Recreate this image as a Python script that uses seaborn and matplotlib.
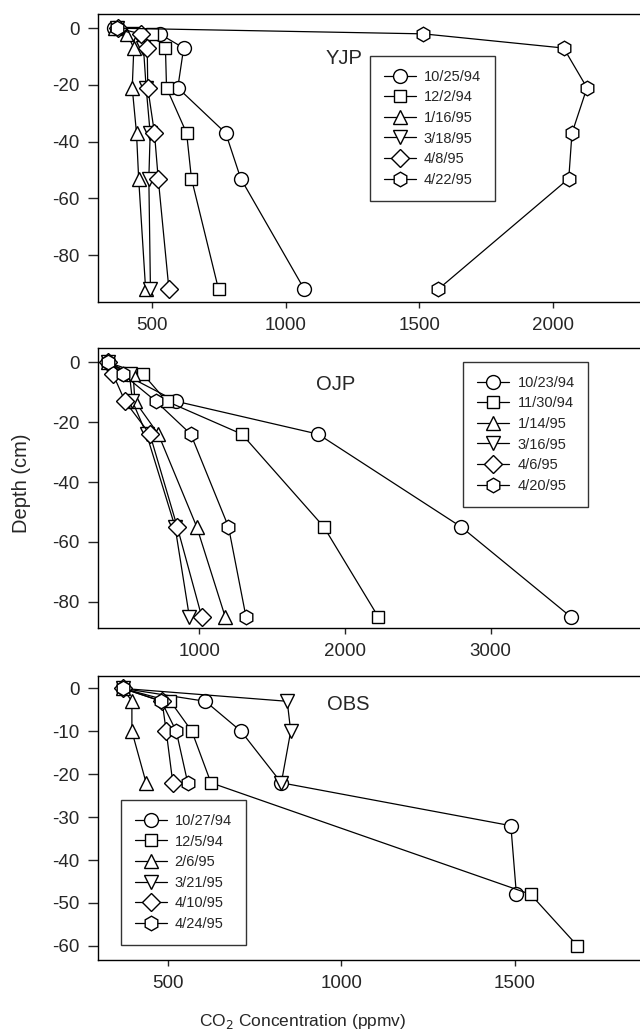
import matplotlib
matplotlib.use("Agg")
import matplotlib.pyplot as plt
import pandas as pd
import seaborn as sns

# YJP site
yjp_depth = [0, -2, -7, -21, -37, -53, -92]
yjp_dates = ["10/25/94", "12/2/94", "1/16/95", "3/18/95", "4/8/95", "4/22/95"]
yjp_co2 = [
    [360, 530, 620, 598, 777, 833, 1070],
    [370, 500, 552, 556, 631, 649, 750],
    [365, 409, 434, 428, 444, 452, 478],
    [370, 430, 470, 480, 495, 490, 496],
    [375, 459, 484, 486, 511, 525, 565],
    [370, 1514, 2038, 2125, 2069, 2057, 1570],
]

# OJP site
ojp_depth = [0, -4, -13, -24, -55, -85]
ojp_dates = ["10/23/94", "11/30/94", "1/14/95", "3/16/95", "4/6/95", "4/20/95"]
ojp_co2 = [
    [372, 485, 839, 1816, 2798, 3550],
    [372, 614, 775, 1292, 1855, 2228],
    [372, 545, 557, 718, 982, 1177],
    [372, 520, 540, 637, 833, 931],
    [372, 407, 489, 660, 848, 1016],
    [372, 476, 701, 941, 1200, 1320],
]

# OBS site
obs_dates = ["10/27/94", "12/5/94", "2/6/95", "3/21/95", "4/10/95", "4/24/95"]
obs_depth = [
    [0, -3, -10, -22, -32, -48],
    [0, -3, -10, -22, -48, -60],
    [0, -3, -10, -22],
    [0, -3, -10, -22],
    [0, -3, -10, -22],
    [0, -3, -10, -22],
]
obs_co2 = [
    [370, 608, 711, 827, 1489, 1505],
    [370, 507, 569, 624, 1546, 1681],
    [370, 396, 396, 437],
    [370, 844, 854, 827],
    [370, 483, 495, 514],
    [370, 481, 524, 557],
]

markers = ["o", "s", "^", "v", "D", "h"]
msizes = [10, 9, 10, 10, 9, 10.5]

sns.set_style("ticks")
plt.rcParams["font.family"] = ["Liberation Sans", "DejaVu Sans"]
plt.rcParams["axes.unicode_minus"] = False

fig = plt.figure(figsize=(6.4, 10.36), dpi=100)
ax1 = fig.add_axes([0.153, 0.7085, 0.85, 0.278])
ax2 = fig.add_axes([0.153, 0.3938, 0.85, 0.2703])
ax3 = fig.add_axes([0.153, 0.0734, 0.85, 0.2741])


def draw_site(ax, dates, co2, depths, title, title_pos, legend_pos):
    for i, (d, vals) in enumerate(zip(dates, co2)):
        dep = depths[i] if isinstance(depths[0], list) else depths
        df = pd.DataFrame({"co2": vals, "depth": dep})
        sns.lineplot(data=df, x="co2", y="depth", sort=False, estimator=None,
                     color="black", linewidth=0.9, marker=markers[i],
                     markersize=msizes[i], markerfacecolor="white",
                     markeredgecolor="black", markeredgewidth=1.0,
                     label=d, ax=ax)
    ax.text(title_pos[0], title_pos[1], title, transform=ax.transAxes,
            ha="center", va="center", fontsize=14.5)
    leg = ax.legend(loc="upper left", bbox_to_anchor=legend_pos,
                    borderaxespad=0, fontsize=10.5, handlelength=2.2,
                    handletextpad=0.55, fancybox=False, frameon=True,
                    borderpad=0.95, labelspacing=0.45)
    leg.get_frame().set_edgecolor("black")
    leg.get_frame().set_linewidth(1.0)
    ax.set_xlabel("")
    ax.set_ylabel("")
    ax.tick_params(axis="x", labelsize=13.5, direction="out", length=4, width=1, pad=7)
    ax.tick_params(axis="y", labelsize=13.5, direction="out", length=7, width=1, pad=6)
    for s in ax.spines.values():
        s.set_linewidth(1.0)
        s.set_color("black")


draw_site(ax1, yjp_dates, yjp_co2, yjp_depth, "YJP", (0.452, 0.847), (0.5, 0.854))
ax1.set_xlim(300, 2330)
ax1.set_ylim(-96.5, 5)
ax1.set_xticks([500, 1000, 1500, 2000])
ax1.set_yticks([0, -20, -40, -60, -80])

draw_site(ax2, ojp_dates, ojp_co2, ojp_depth, "OJP", (0.437, 0.868), (0.672, 0.95))
ax2.set_xlim(303, 4040)
ax2.set_ylim(-88.8, 4.8)
ax2.set_xticks([1000, 2000, 3000])
ax2.set_yticks([0, -20, -40, -60, -80])

draw_site(ax3, obs_dates, obs_co2, obs_depth, "OBS", (0.461, 0.898), (0.042, 0.563))
ax3.set_xlim(298, 1867)
ax3.set_ylim(-63.3, 2.9)
ax3.set_xticks([500, 1000, 1500])
ax3.set_yticks([0, -10, -20, -30, -40, -50, -60])

fig.text(0.034, 0.534, "Depth (cm)", rotation=90, ha="center", va="center", fontsize=14.5)
fig.text(0.473, 0.014, "CO$_2$ Concentration (ppmv)", ha="center", va="center", fontsize=12.5)

fig.savefig("out.png", dpi=100)
